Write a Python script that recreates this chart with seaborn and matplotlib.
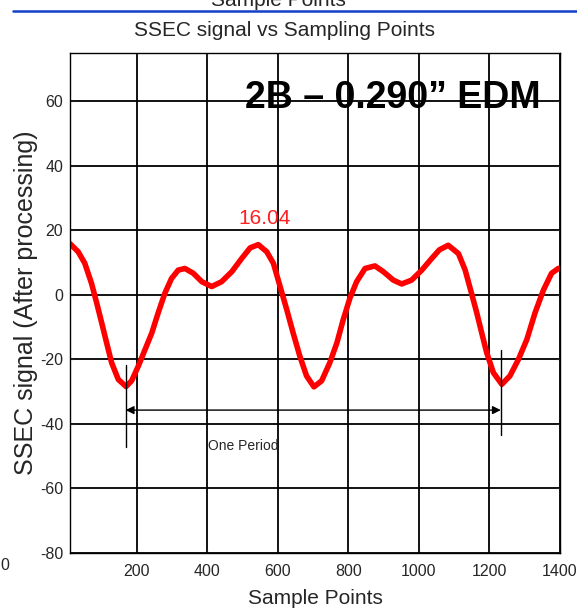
import matplotlib
matplotlib.use("Agg")
import matplotlib.pyplot as plt
import seaborn as sns
import pandas as pd

# ---- data ----
sample_points = [10, 33, 52, 71, 86, 100, 114, 128, 147, 169, 185, 204, 223, 242, 260,
                 279, 298, 317, 336, 360, 384, 412, 440, 469, 497, 521, 544, 568, 587,
                 606, 625, 643, 662, 681, 702, 724, 747, 767, 785, 804, 823, 847, 875,
                 899, 927, 951, 979, 1008, 1036, 1058, 1083, 1112, 1131, 1149, 1164,
                 1178, 1192, 1211, 1235, 1258, 1282, 1306, 1329, 1353, 1376, 1395, 1400]
ssec_signal = [15.9, 13.4, 9.8, 3.6, -2.6, -8.7, -14.9, -21.0, -26.2, -28.4, -26.6,
               -22.0, -16.9, -11.8, -5.6, 0.5, 5.1, 7.7, 8.2, 6.7, 4.1, 2.6, 4.1, 7.2,
               11.3, 14.6, 15.6, 13.4, 9.8, 2.6, -4.6, -11.8, -19.0, -25.1, -28.5,
               -26.6, -21.0, -14.9, -7.7, -1.0, 4.1, 8.2, 9.0, 7.2, 4.6, 3.4, 4.6, 7.7,
               11.3, 14.0, 15.4, 12.8, 7.7, 0.5, -5.6, -11.8, -17.9, -24.1, -27.7,
               -25.1, -20.0, -13.8, -5.6, 1.5, 6.7, 8.2, 8.3]
x_ticks = [200, 400, 600, 800, 1000, 1200, 1400]
y_ticks = [-80, -60, -40, -20, 0, 20, 40, 60]
peak_label = "16.04"
peak_label_pos = (563, 23.8)
period_start, period_end = 168, 1232
period_arrow_y = -35.7

df = pd.DataFrame({"Sample Points": sample_points, "SSEC signal": ssec_signal})

sns.set_style("white")
plt.rcParams["font.family"] = ["Liberation Sans", "DejaVu Sans"]
plt.rcParams["axes.unicode_minus"] = False

fig = plt.figure(figsize=(5.77, 6.08), dpi=100)
ax = fig.add_axes([70 / 577, 55 / 608, 490 / 577, 500 / 608])

sns.lineplot(data=df, x="Sample Points", y="SSEC signal", ax=ax, color="#ff0000",
             linewidth=4.0, estimator=None, sort=False)
for ln in ax.lines:
    ln.set_solid_joinstyle("round")
    ln.set_solid_capstyle("round")

ax.set_xlim(10, 1400)
ax.set_ylim(-80, 75)
ax.set_xticks(x_ticks)
ax.set_yticks(y_ticks)
ax.grid(True, color="black", linewidth=1.3)
ax.set_axisbelow(True)
for s in ax.spines.values():
    s.set_color("black")
    s.set_linewidth(1.0)
ax.tick_params(direction="in", length=3, width=0.8, labelsize=11.5,
               top=True, right=True, left=True, bottom=True)
ax.tick_params(axis="x", pad=8)
ax.tick_params(axis="y", pad=5)
ax.set_xlabel("Sample Points", fontsize=15, labelpad=7)
ax.set_ylabel("SSEC signal (After processing)", fontsize=18, labelpad=1)

# annotations
ax.text(0.357, 0.89, "2B \u2013 0.290\u201d EDM", transform=ax.transAxes,
        fontsize=27, fontweight="bold", ha="left", va="baseline", color="black")
ax.text(peak_label_pos[0], peak_label_pos[1], peak_label, color="#ff2020",
        fontsize=15, ha="center", va="center")

ax.annotate("", xy=(period_start, period_arrow_y), xytext=(period_end, period_arrow_y),
            arrowprops=dict(arrowstyle="<|-|>", color="black", lw=1.0,
                            mutation_scale=12, shrinkA=0, shrinkB=0))
ax.plot([period_start, period_start], [-21.7, -47], color="black", lw=1.0)
ax.plot([period_end, period_end], [-17, -43.5], color="black", lw=1.0)
ax.text(501, -46.7, "One Period", fontsize=10, ha="center", va="center")

# title and leftovers from the surrounding page
fig.text(285 / 577, 1 - 30 / 608, "SSEC signal vs Sampling Points", fontsize=15,
         ha="center", va="center")
fig.text(278 / 577, 1 - 1 / 608, "Sample Points", fontsize=15, ha="center",
         va="center")
fig.add_artist(plt.Line2D([13 / 577, 1.0], [1 - 11 / 608, 1 - 11 / 608],
                          color="#1040c8", lw=1.8, transform=fig.transFigure))
fig.text(5 / 577, 1 - 565 / 608, "0", fontsize=11.5, ha="center", va="center")

fig.savefig("out.png", dpi=100)
